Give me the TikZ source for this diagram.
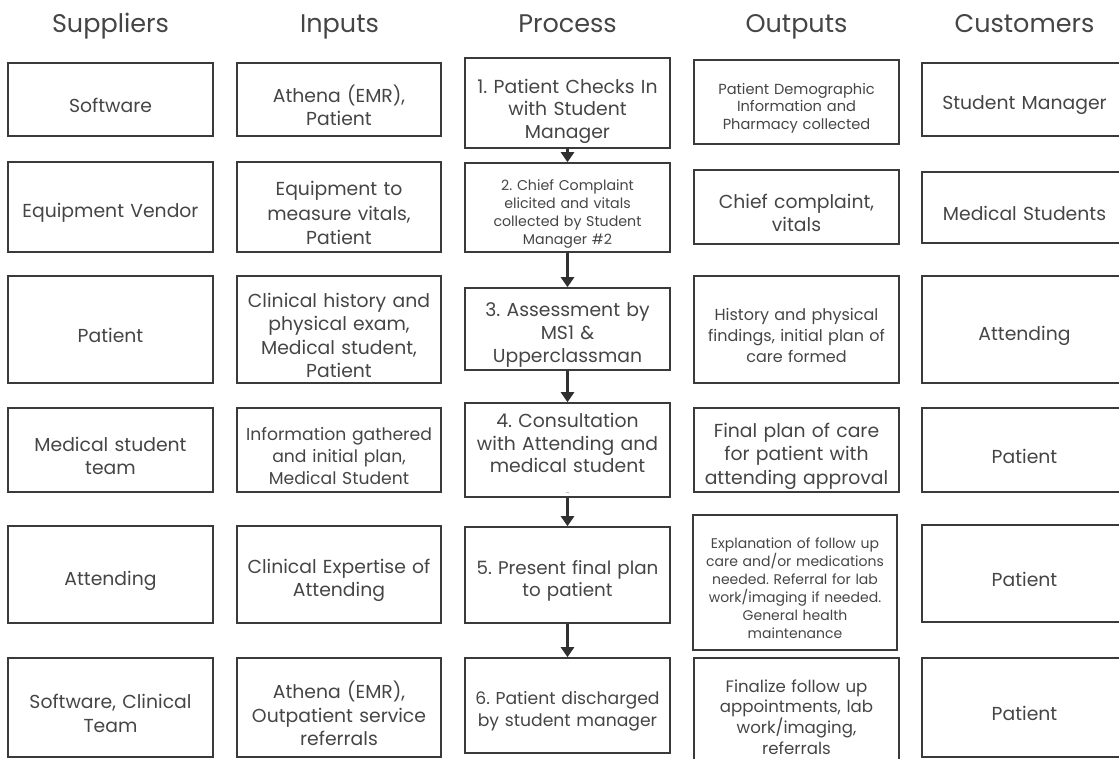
\documentclass[tikz,border=0pt]{standalone}
\usepackage{fontspec}
\setmainfont{Poppins}
\usetikzlibrary{arrows.meta}
\definecolor{txt}{HTML}{454545}
\definecolor{edge}{HTML}{3A3A3A}
\definecolor{arr}{HTML}{303030}
% \bx{name}{left}{top}{right}{bottom}{size}{leading}{text}; text drops 6px below centre
\newcommand\bx[8]{\node[box, minimum width={#4-#2}, minimum height={#5-#3}] (#1) at ({(#2+#4)/2},{(#3+#5)/2}) {};
  \node[boxtext, font=\fontsize{#6}{#7}\selectfont] (#1t) at ([yshift=-\txtdrop pt]#1.center) {#8};}
\newcommand\txtdrop{6}
\begin{document}
\frenchspacing
\begin{tikzpicture}[x=1pt,y=-1pt,
  box/.style={draw=edge, line width=1.6pt, inner sep=0pt},
  boxtext/.style={text=txt, align=center, inner sep=0pt, text width=200pt},
  hdr/.style={text=txt, font=\fontsize{25.5}{28}\selectfont, inner sep=0pt, anchor=base},
  flow/.style={draw=arr, line width=3pt, -{Triangle[width=13pt,length=10pt]}}]
\useasboundingbox (0,0) rectangle (1119,759);
\clip (0,0) rectangle (1119,759);
% headers
\node[hdr] (hs) at (110.5,33) {Suppliers};
\node[hdr] (hi) at (339.5,33) {Inputs};
\node[hdr] (hp) at (567.5,33) {Process};
\node[hdr] (ho) at (796.5,33) {Outputs};
\node[hdr] (hc) at (1024.5,33) {Customers};
% suppliers
\bx{s1}{8}{63}{213}{136}{18.8}{23.5}{Software}
\bx{s2}{8}{162}{213}{252}{18.8}{23.5}{Equipment Vendor}
\bx{s3}{8}{276}{213}{383}{18.8}{23.5}{Patient}
\bx{s4}{8}{408}{213}{492}{18.8}{23.5}{Medical student\\team}
\bx{s5}{8}{526}{213}{623}{18.8}{23.5}{Attending}
\bx{s6}{8}{658}{213}{757}{18.8}{23.5}{Software, Clinical\\Team}
% inputs
\bx{i1}{237}{63}{441}{136}{18.8}{23.5}{Athena (EMR),\\Patient}
\bx{i2}{237}{162}{441}{252}{18.8}{24.5}{Equipment to\\measure vitals,\\Patient}
\bx{i3}{237}{276}{441}{383}{18.8}{23.3}{Clinical history and\\physical exam,\\Medical student,\\Patient}
\bx{i4}{237}{408}{441}{492}{17.2}{21.7}{Information gathered\\and initial plan,\\Medical Student}
\bx{i5}{237}{526}{441}{623}{18.8}{23.5}{Clinical Expertise of\\Attending}
\bx{i6}{237}{658}{441}{757}{18.8}{23.5}{Athena (EMR),\\Outpatient service\\referrals}
% process
\renewcommand\txtdrop{8}
\bx{p1}{465}{58}{670}{148}{18.8}{22.5}{1. Patient Checks In\\with Student\\Manager}
\renewcommand\txtdrop{6}
\bx{p2}{465}{163}{670}{252}{14.2}{18}{2. Chief Complaint\\elicited and vitals\\collected by Student\\Manager \#2}
\bx{p3}{465}{288}{670}{370}{18.8}{23.3}{3. Assessment by\\MS1 \&\\Upperclassman}
\renewcommand\txtdrop{-7}
\bx{p4}{465}{403}{670}{497}{18.8}{22.5}{4. Consultation\\with Attending and\\medical student}
\renewcommand\txtdrop{6}
\bx{p5}{465}{527}{670}{623}{18.3}{21.7}{5. Present final plan\\to patient}
\bx{p6}{465}{658}{670}{753}{17.2}{21.7}{6. Patient discharged\\by student manager}
% outputs
\bx{o1}{694}{60}{899}{144}{14.6}{17.5}{Patient Demographic\\Information and\\Pharmacy collected}
\bx{o2}{694}{170}{899}{244}{18.8}{23.5}{Chief complaint,\\vitals}
\bx{o3}{694}{276}{899}{383}{16}{21}{History and physical\\findings, initial plan of\\care formed}
\bx{o4}{694}{408}{899}{492}{18.8}{23.5}{Final plan of care\\for patient with\\attending approval}
\bx{o5}{693}{515}{897}{650}{14}{18}{Explanation of follow up\\care and/or medications\\needed. Referral for lab\\work/imaging if needed.\\General health\\maintenance}
\bx{o6}{694}{658}{899}{764}{16.6}{20.8}{Finalize follow up\\appointments, lab\\work/imaging,\\referrals}
% customers
\bx{c1}{922}{63}{1127}{136}{18.8}{23.5}{Student Manager}
\bx{c2}{922}{172}{1127}{243}{18.8}{23.5}{Medical Students}
\bx{c3}{922}{276}{1127}{383}{18.8}{23.5}{Attending}
\bx{c4}{922}{408}{1127}{492}{18.8}{23.5}{Patient}
\bx{c5}{922}{525}{1127}{622}{18.8}{23.5}{Patient}
\bx{c6}{922}{658}{1127}{757}{18.8}{23.5}{Patient}
% flow arrows
\draw[flow] (p1) -- (p2);
\draw[flow] (p2) -- (p3);
\draw[flow] (p3) -- (p4);
\draw[flow] (p4) -- (p5);
\draw[flow] (p5) -- (p6);
\node[text=txt, font=\fontsize{6}{6}\selectfont, inner sep=0pt] (dots) at (567.5,493) {...};
\end{tikzpicture}
\end{document}
